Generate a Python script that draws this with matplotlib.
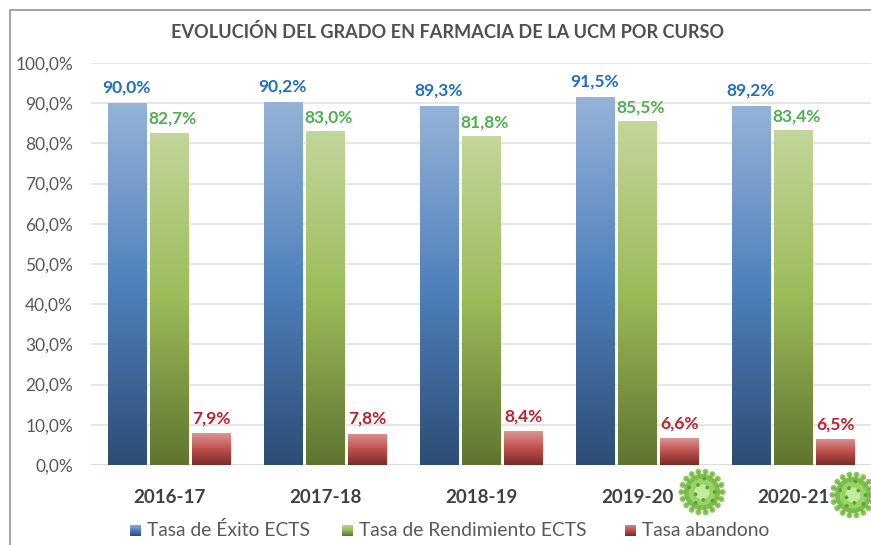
import numpy as np
import matplotlib
matplotlib.use('Agg')
import matplotlib.pyplot as plt
from matplotlib.colors import LinearSegmentedColormap
from matplotlib.patches import Circle

plt.rcParams['font.family'] = ['Lato', 'DejaVu Sans']

cursos = ['2016-17', '2017-18', '2018-19', '2019-20', '2020-21']
exito = [90.0, 90.2, 89.3, 91.5, 89.2]
rendimiento = [82.7, 83.0, 81.8, 85.5, 83.4]
abandono = [7.9, 7.8, 8.4, 6.6, 6.5]
nombres = ['Tasa de Éxito ECTS', 'Tasa de Rendimiento ECTS', 'Tasa abandono']
yticks = [0, 10, 20, 30, 40, 50, 60, 70, 80, 90, 100]

W, H = 871, 545
fig = plt.figure(figsize=(W / 100, H / 100), dpi=100)
ax = fig.add_axes([91 / W, 1 - 465 / H, 780 / W, 402 / H])

# top colour, middle, bottom of each gradient
grads = [['#95b3d7', '#4f81bd', '#2c4d75'],
         ['#c3d69b', '#9bbb59', '#5f7530'],
         ['#d99694', '#c0504d', '#772c2a']]
label_colors = ['#1f6fc0', '#4fb04f', '#c0202a']
series = [exito, rendimiento, abandono]
x = np.arange(len(cursos))
w = 0.244
step = 0.272
# labels do not sit quite centred over the bars in the original
lab_dx = [0, 0.025, 0]
lab_dy = [1.9, 1.4, 1.7]


def pct(v):
    return ('%.1f%%' % v).replace('.', ',')


ramp = np.linspace(0, 1, 256).reshape(-1, 1)
for i, vals in enumerate(series):
    cmap = LinearSegmentedColormap.from_list('g%d' % i, grads[i])
    bars = ax.bar(x + (i - 1) * step, vals, w, color=grads[i][1], zorder=2)
    for b, v in zip(bars, vals):
        im = ax.imshow(ramp, cmap=cmap, aspect='auto', zorder=3, vmin=0, vmax=1,
                       extent=[b.get_x(), b.get_x() + w, 0, v])
        im.set_clip_path(b)
        ax.text(b.get_x() + w / 2 + lab_dx[i], v + lab_dy[i], pct(v),
                ha='center', va='bottom', fontsize=12.5, fontweight='bold',
                color=label_colors[i], zorder=4)

ax.set_xlim(-0.5, 4.5)
ax.set_ylim(0, 100)
ax.set_yticks(yticks)
ax.set_yticklabels([pct(t) for t in yticks], fontsize=12.5, color='#595959')
ax.set_xticks(x)
ax.set_xticklabels(cursos, fontsize=13.5, fontweight='bold', color='#404040')
ax.tick_params(length=0)
ax.tick_params(axis='y', pad=13)
ax.tick_params(axis='x', pad=17)
ax.grid(axis='y', color='#e2e2e2', lw=1.2, zorder=0)
ax.set_axisbelow(True)
for s in ax.spines.values():
    s.set_visible(False)
ax.axhline(0, color='#d9d9d9', lw=1.2, zorder=1)

fig.text(447.5 / W, 1 - 32 / H, 'EVOLUCIÓN DEL GRADO EN FARMACIA DE LA UCM POR CURSO',
         ha='center', va='center', fontsize=13.05, fontweight='bold', color='#505050')

# outer frame of the pasted chart
fig.add_artist(plt.Line2D([10 / W, 10 / W, 1], [0, 1 - 10 / H, 1 - 10 / H], color='#9a9a9a', lw=1.3))

# legend, placed by hand
ley_x = [130, 342, 625]
for i, n in enumerate(nombres):
    lax = fig.add_axes([ley_x[i] / W, 1 - 536 / H, 11 / W, 11 / H])
    lax.imshow(ramp, cmap=LinearSegmentedColormap.from_list('l%d' % i, grads[i]), aspect='auto')
    lax.axis('off')
    fig.text((ley_x[i] + 17) / W, 1 - 530 / H, n, ha='left', va='center', fontsize=13.9, color='#595959')


def virus(cx, cy, r=24):
    # little green virus icon next to the covid years
    vax = fig.add_axes([(cx - r) / W, 1 - (cy + r) / H, 2 * r / W, 2 * r / H])
    vax.set_xlim(-1.05, 1.05)
    vax.set_ylim(-1.05, 1.05)
    vax.axis('off')
    ang = np.linspace(0, 2 * np.pi, 18, endpoint=False)
    for a in ang:
        vax.plot([0.7 * np.cos(a), 0.9 * np.cos(a)], [0.7 * np.sin(a), 0.9 * np.sin(a)], color='#7ab648', lw=1.5)
        vax.add_patch(Circle((0.9 * np.cos(a), 0.9 * np.sin(a)), 0.1, color='#8ccb5a'))
    vax.add_patch(Circle((0, 0), 0.76, color='#7cc04e'))
    vax.add_patch(Circle((0, 0), 0.55, color='#96d566'))
    vax.add_patch(Circle((0, 0), 0.3, color='#c4ec9f'))
    for a, rr in zip(ang[::2], [0.55, 0.3, 0.6, 0.35, 0.6, 0.3, 0.55, 0.35, 0.6]):
        vax.add_patch(Circle((rr * np.cos(a), rr * np.sin(a)), 0.05, color='#5f9e38'))


virus(702, 492)
virus(853, 495)

fig.savefig('out.png', dpi=100)
